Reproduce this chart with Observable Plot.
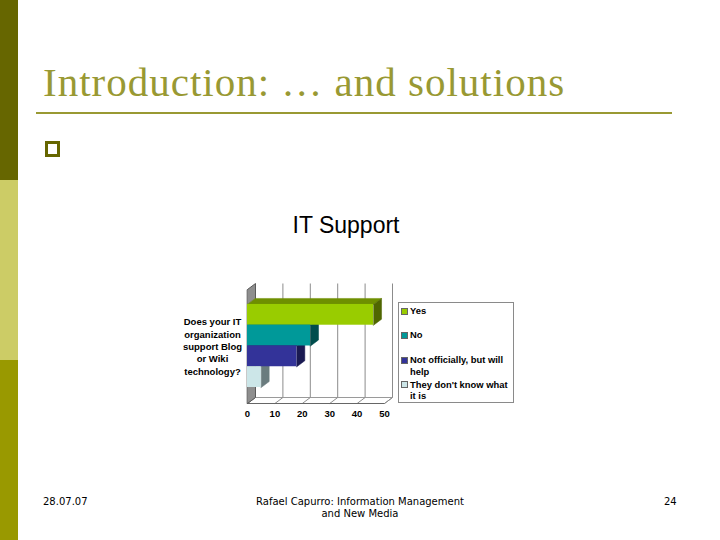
<!DOCTYPE html>
<html>
<head>
<meta charset="utf-8">
<script src="https://cdn.jsdelivr.net/npm/d3@7"></script>
<script src="https://cdn.jsdelivr.net/npm/@observablehq/plot@0.6"></script>
<style>
  html, body { margin: 0; padding: 0; background: #fff; }
  #slide { position: relative; width: 720px; height: 540px; overflow: hidden; background: #fff; font-family: "Liberation Sans", Arial, sans-serif; }
  .band { position: absolute; left: 0; width: 18px; }
  #title { position: absolute; left: 43px; top: 58px; font-family: "Liberation Serif", "DejaVu Serif", serif; font-size: 41px; letter-spacing: 1px; color: #999933; white-space: nowrap; line-height: 48px; }
  #rule { position: absolute; left: 36px; top: 112px; width: 636px; height: 2px; background: #999933; }
  #bullet { position: absolute; left: 45px; top: 141px; width: 9px; height: 10px; border: 3px solid #666600; background: #fff; }
  #ctitle { position: absolute; left: 246px; width: 200px; top: 211px; text-align: center; font-size: 23px; color: #000; line-height: 28px; }
  #chart { position: absolute; left: 170px; top: 270px; }
  #legend { position: absolute; left: 398px; top: 302px; width: 116px; height: 101px; border: 1px solid #8a8a8a; box-sizing: border-box; background: #fff; }
  .item { position: absolute; left: 1px; width: 112px; font-size: 9.4px; font-weight: bold; line-height: 11.8px; color: #000; }
  .sw { position: absolute; left: 1px; top: 2.5px; width: 7px; height: 7px; border: 1px solid #666; box-sizing: border-box; }
  .lt { position: absolute; left: 10px; white-space: pre; }
  .foot { position: absolute; font-family: "DejaVu Sans", Verdana, sans-serif; font-size: 10px; color: #000; line-height: 12px; }
</style>
</head>
<body>
<div id="slide">
  <div class="band" style="top:0;height:180px;background:#666600"></div>
  <div class="band" style="top:180px;height:180px;background:#cccc66"></div>
  <div class="band" style="top:360px;height:180px;background:#999900"></div>
  <div id="title">Introduction: … and solutions</div>
  <div id="rule"></div>
  <div id="bullet"></div>
  <div id="ctitle">IT Support</div>
  <div id="chart"></div>
  <div id="legend"></div>
  <div class="foot" style="left:43px;top:496px">28.07.07</div>
  <div class="foot" style="left:210px;width:300px;top:496px;text-align:center">Rafael Capurro: Information Management<br>and New Media</div>
  <div class="foot" style="left:664px;top:496px">24</div>
</div>
<script>
// ---- data ----
const series = ["Yes", "No", "Not officially, but will help", "They don't know what it is"];
const legendLabels = ["Yes", "No", "Not officially, but will\nhelp", "They don't know what\nit is"];
const values = [46, 23, 18, 5];
const xTicks = [0, 10, 20, 30, 40, 50];
const question = "Does your IT\norganization\nsupport Blog\nor Wiki\ntechnology?";
const frontColors = ["#99cc00", "#009999", "#333399", "#cce6e8"];
const topColors = ["#6e8f00", "#006b6b", "#24246b", "#90a3a5"];
const sideColors = ["#4f6600", "#004d4d", "#1a1a52", "#6a7c7e"];

// ---- layout ----
const W = 226, H = 160, ML = 77, MR = 12, MT = 19, MB = 27;
const yTop = -0.72, yBot = 4.77;
const kx = (W - ML - MR) / 50;
const ky = (H - MT - MB) / (yBot - yTop);
const DX = 8 / kx, DY = 6 / ky;

const bars = series.map((s, i) => ({s, i, v: values[i]}));

// faces as polygons
const faces = [];
bars.forEach(b => {
  const {i, v} = b;
  faces.push(...[[0, i], [v, i], [v + DX, i - DY], [DX, i - DY]].map(([x, y]) => ({id: "t" + i, x, y, fill: topColors[i]})));
  faces.push(...[[v, i], [v + DX, i - DY], [v + DX, i + 1 - DY], [v, i + 1]].map(([x, y]) => ({id: "r" + i, x, y, fill: sideColors[i]})));
});
const wall = [[0, yTop], [DX, yTop - DY], [DX, yBot - DY], [0, yBot]].map(([x, y]) => ({x, y}));
const floor = [[0, yBot], [50, yBot], [50 + DX, yBot - DY], [DX, yBot - DY]].map(([x, y]) => ({x, y}));
const grid = xTicks.filter(t => t > 0);

const chart = Plot.plot({
  width: W, height: H,
  marginLeft: ML, marginRight: MR, marginTop: MT, marginBottom: MB,
  style: {fontFamily: "'Liberation Sans', Arial, sans-serif", background: "transparent", overflow: "visible"},
  x: {domain: [0, 50], ticks: xTicks, tickSize: 0, tickPadding: 6, label: null, tickFormat: d => d},
  y: {domain: [yBot, yTop], axis: null},
  color: {type: "identity"},
  marks: [
    // back wall gridlines
    Plot.link(grid, {x1: d => d + DX, x2: d => d + DX, y1: yTop - DY, y2: yBot - DY, stroke: "#8c8c8c", strokeWidth: 1}),
    // floor
    Plot.line(floor, {x: "x", y: "y", fill: "#ffffff", stroke: "#9a9a9a", strokeWidth: 1, curve: "linear-closed"}),
    Plot.link(xTicks, {x1: d => d, x2: d => d + DX, y1: yBot, y2: yBot - DY, stroke: "#8c8c8c", strokeWidth: 1}),
    Plot.link([0], {x1: 0, x2: 50, y1: yBot, y2: yBot, stroke: "#666", strokeWidth: 1}),
    // left wall
    Plot.line(wall, {x: "x", y: "y", fill: "#8e8e8e", stroke: "#5a5a5a", strokeWidth: 1, curve: "linear-closed"}),
    // bar top and side faces
    Plot.line(faces, {x: "x", y: "y", z: "id", fill: "fill", stroke: "fill", strokeWidth: 0.5, curve: "linear-closed"}),
    // bar fronts
    Plot.rect(bars, {x1: 0, x2: "v", y1: "i", y2: d => d.i + 1, fill: d => frontColors[d.i]}),
    // category label
    Plot.text([question], {x: 0, y: 2, text: d => d, dx: -35, textAnchor: "middle", fontWeight: "bold", fontSize: 9.5, lineHeight: 1.3, fill: "#000"}),
    Plot.axisX({ticks: xTicks, tickSize: 0, tickPadding: 7, fontWeight: "bold", fontSize: 9.5, fill: "#000", label: null, tickFormat: d => d})
  ]
});
document.getElementById("chart").appendChild(chart);

// legend
const legend = document.getElementById("legend");
const itemTops = [2, 26, 51, 75.5];
legendLabels.forEach((lab, i) => {
  const it = document.createElement("div");
  it.className = "item";
  it.style.top = itemTops[i] + "px";
  const sw = document.createElement("div");
  sw.className = "sw";
  sw.style.background = frontColors[i];
  const t = document.createElement("div");
  t.className = "lt";
  t.textContent = lab;
  it.appendChild(sw); it.appendChild(t);
  legend.appendChild(it);
});
</script>
</body>
</html>
